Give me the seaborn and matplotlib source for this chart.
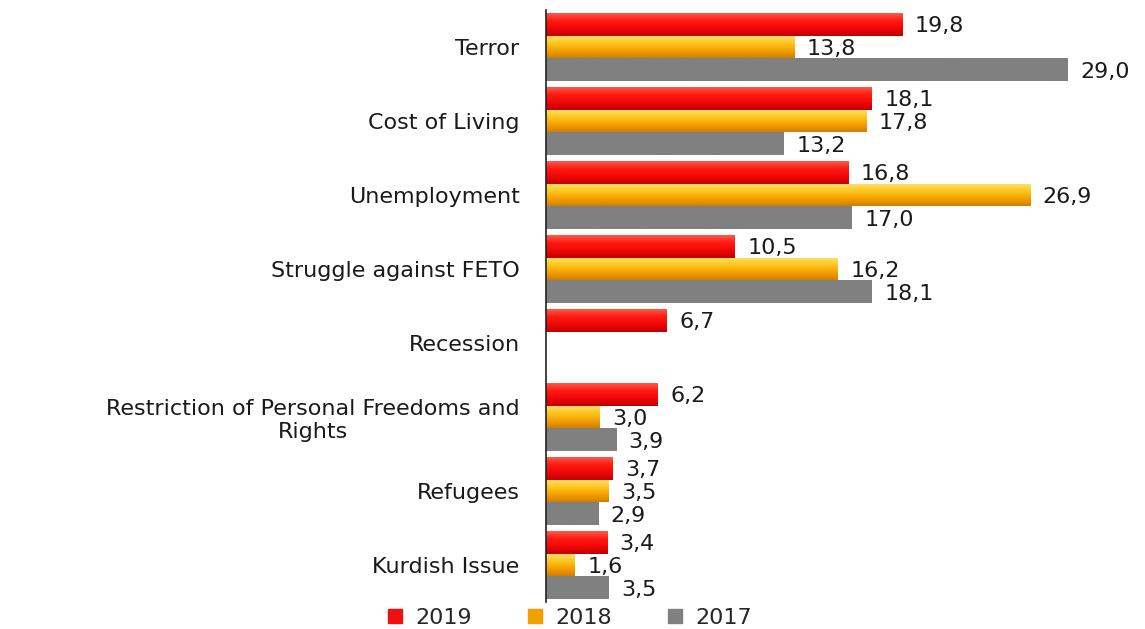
import numpy as np
import pandas as pd
import matplotlib
matplotlib.use("Agg")
import matplotlib.pyplot as plt
from matplotlib.colors import LinearSegmentedColormap
from matplotlib.lines import Line2D
import seaborn as sns

categories = ["Terror", "Cost of Living", "Unemployment", "Struggle against FETO",
              "Recession", "Restriction of Personal Freedoms and\nRights",
              "Refugees", "Kurdish Issue"]
years = ["2019", "2018", "2017"]
v2019 = [19.8, 18.1, 16.8, 10.5, 6.7, 6.2, 3.7, 3.4]
v2018 = [13.8, 17.8, 26.9, 16.2, np.nan, 3.0, 3.5, 1.6]
v2017 = [29.0, 13.2, 17.0, 18.1, np.nan, 3.9, 2.9, 3.5]

rows = []
for yr, vals in zip(years, [v2019, v2018, v2017]):
    for c, v in zip(categories, vals):
        rows.append({"Issue": c, "Year": yr, "Value": v})
df = pd.DataFrame(rows)

sns.set_style("white")
plt.rcParams["font.family"] = ["DejaVu Sans"]

colors = {"2019": "#F01010", "2018": "#F5A000", "2017": "#808080"}
grads = {"2019": ["#FF5A4A", "#FF1A10", "#F00808", "#C00000"],
         "2018": ["#FFE070", "#FFC820", "#F5A000", "#D08000"],
         "2017": ["#808080", "#808080"]}

fig = plt.figure(figsize=(11.45, 6.29), dpi=100)
ax = fig.add_axes([546/1145, 1-602/629, 576/1145, 592/629])

sns.barplot(data=df, y="Issue", x="Value", hue="Year", hue_order=years,
            order=categories, orient="h", palette=colors, width=0.93,
            dodge=True, ax=ax, legend=False, saturation=1, linewidth=0)

FS = 16

for cont, yr in zip(ax.containers, years):
    cmap = LinearSegmentedColormap.from_list("g" + yr, grads[yr])
    for bar in cont:
        w = bar.get_width()
        if not np.isfinite(w) or w <= 0:
            continue
        x0, y0, h = bar.get_x(), bar.get_y(), bar.get_height()
        grad = np.linspace(0, 1, 64).reshape(-1, 1)
        im = ax.imshow(grad, cmap=cmap, aspect="auto",
                       extent=[x0, x0 + w, y0 + h, y0], origin="upper", zorder=2)
        im.set_clip_path(bar)
        ax.annotate(f"{w:.1f}".replace(".", ","), (x0 + w, y0 + h/2),
                    xytext=(9, -1.5), textcoords="offset points",
                    ha="left", va="center", fontsize=FS, color="#1a1a1a", zorder=3)

ax.set_xlim(0, 32)
ax.set_ylim(7.5, -0.5)

for s in ["top", "right", "bottom"]:
    ax.spines[s].set_visible(False)
ax.spines["left"].set_color("#222222")
ax.spines["left"].set_linewidth(1.2)
ax.set_xticks([])
ax.set_xlabel("")
ax.set_ylabel("")
ax.set_yticks(range(len(categories)))
ax.set_yticklabels(categories, fontsize=FS, color="#1a1a1a", multialignment="center")
ax.tick_params(axis="y", which="major", length=0, pad=19)
ax.set_yticks(np.arange(-0.5, 8.0, 1.0), minor=True)
ax.tick_params(axis="y", which="minor", length=5, width=1.2, color="#222222", direction="out")

handles = [Line2D([], [], marker="s", linestyle="none", markersize=10,
                  markerfacecolor=colors[y], markeredgecolor=colors[y]) for y in years]
fig.legend(handles, years, loc="center", bbox_to_anchor=(0.496, 1-618/629),
           ncol=3, frameon=False, fontsize=FS, handletextpad=0.45,
           columnspacing=2.3, handlelength=1.0, borderpad=0)

fig.savefig("out.png", dpi=100)
